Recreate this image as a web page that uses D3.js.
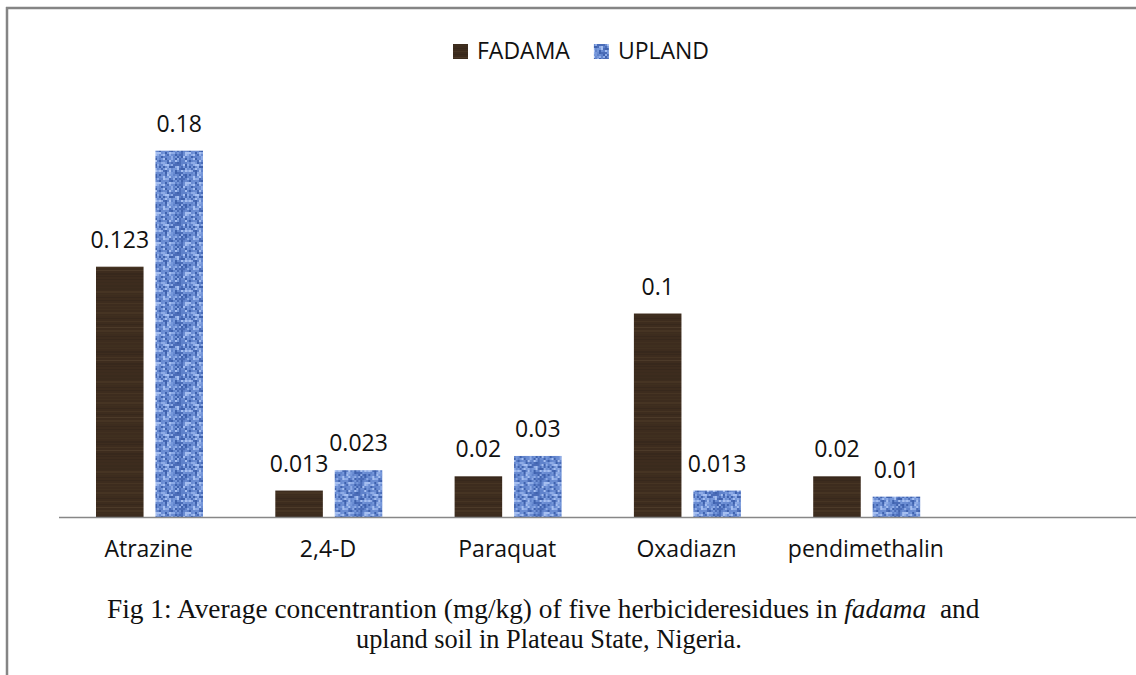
<!DOCTYPE html>
<html>
<head>
<meta charset="utf-8">
<script src="https://cdn.jsdelivr.net/npm/d3@7"></script>
<style>
  body { margin: 0; background: #fff; }
  svg { display: block; }
</style>
</head>
<body>
<script>
var width = 1136;
var height = 675;

// data
var herbicides = ["Atrazine", "2,4-D", "Paraquat", "Oxadiazn", "pendimethalin"];
var series = ["FADAMA", "UPLAND"];
var fadama = [0.123, 0.013, 0.02, 0.1, 0.02];
var upland = [0.18, 0.023, 0.03, 0.013, 0.01];
var captionLine1 = "Fig 1: Average concentrantion (mg/kg) of five herbicideresidues in ";
var captionItalic = "fadama";
var captionEnd = "  and";
var captionLine2 = "upland soil in Plateau State, Nigeria.";

var rows = herbicides.map(function(h, i) {
  return { name: h, FADAMA: fadama[i], UPLAND: upland[i] };
});

var svg = d3.select("body")
            .append("svg")
            .attr("width", width)
            .attr("height", height);

var defs = svg.append("defs");

// little hash so the textures look the same every time
var hash = function(n) {
  var s = Math.sin(n * 12.9898 + 78.233) * 43758.5453;
  return s - Math.floor(s);
};

// dark wood texture for FADAMA
var wood = defs.append("pattern")
  .attr("id", "wood")
  .attr("patternUnits", "userSpaceOnUse")
  .attr("width", 60)
  .attr("height", 90);
wood.append("rect").attr("width", 60).attr("height", 90).attr("fill", "#3d2c1e");
var woodShades = ["#34251a", "#443221", "#4c3926", "#392a1c", "#574330", "#413020"];
for (var yy = 0; yy < 90; yy += 3) {
  var r = hash(yy + 3);
  wood.append("rect")
    .attr("x", 0).attr("y", yy)
    .attr("width", 60).attr("height", r > 0.7 ? 2 : 1)
    .attr("fill", woodShades[Math.floor(hash(yy * 7 + 1) * woodShades.length)])
    .attr("opacity", 0.6);
}

// blue canvas texture for UPLAND
var canvas = defs.append("pattern")
  .attr("id", "canvas")
  .attr("patternUnits", "userSpaceOnUse")
  .attr("width", 30)
  .attr("height", 30);
canvas.append("rect").attr("width", 30).attr("height", 30).attr("fill", "#7395d8");
var blueShades = ["#4a6cb8", "#5f82cb", "#7597da", "#8eabe6", "#a6bff0", "#6a8cd2", "#3f62ae"];
for (var cx = 0; cx < 30; cx += 2) {
  for (var cy = 0; cy < 30; cy += 2) {
    var k = hash(cx * 31 + cy * 17 + 5);
    canvas.append("rect")
      .attr("x", cx).attr("y", cy)
      .attr("width", 2).attr("height", 2)
      .attr("fill", blueShades[Math.floor(k * blueShades.length)]);
  }
}

var fills = { FADAMA: "url(#wood)", UPLAND: "url(#canvas)" };

// frame lines (left and top)
svg.append("line")
  .attr("x1", 7).attr("x2", 7).attr("y1", 7).attr("y2", height)
  .attr("stroke", "#858585").attr("stroke-width", 2.5);
svg.append("line")
  .attr("x1", 6).attr("x2", width).attr("y1", 8).attr("y2", 8)
  .attr("stroke", "#858585").attr("stroke-width", 2.5);

var x0 = d3.scaleBand()
  .domain(herbicides)
  .range([59, 59 + 5 * 179.3]);

var x1 = d3.scaleBand()
  .domain(series)
  .range([37, 144])
  .paddingInner(0.2);

var y = d3.scaleLinear()
  .domain([0, 0.2])
  .range([517, 110]);

var groups = svg.selectAll(".group")
  .data(rows)
  .enter().append("g")
  .attr("class", "group")
  .attr("transform", function(d) { return "translate(" + x0(d.name) + ",0)"; });

groups.selectAll("rect")
  .data(function(d) { return series.map(function(s) { return { key: s, value: d[s] }; }); })
  .enter().append("rect")
  .attr("x", function(d) { return x1(d.key); })
  .attr("y", function(d) { return y(d.value); })
  .attr("width", x1.bandwidth())
  .attr("height", function(d) { return y(0) - y(d.value); })
  .attr("fill", function(d) { return fills[d.key]; });

groups.selectAll("text.val")
  .data(function(d) { return series.map(function(s) { return { key: s, value: d[s] }; }); })
  .enter().append("text")
  .attr("class", "val")
  .attr("x", function(d) { return x1(d.key) + x1.bandwidth() / 2; })
  .attr("y", function(d) { return y(d.value) - 19; })
  .attr("text-anchor", "middle")
  .attr("font-family", "'Open Sans', sans-serif")
  .attr("font-size", 23)
  .attr("fill", "#111")
  .text(function(d) { return String(d.value); });

// category axis
var xAxis = d3.axisBottom(x0).tickSize(0).tickPadding(24);
var axisG = svg.append("g")
  .attr("transform", "translate(0," + y(0) + ")")
  .call(xAxis);
axisG.select(".domain").remove();
axisG.selectAll("text")
  .attr("font-family", "'Open Sans', sans-serif")
  .attr("font-size", 23)
  .attr("fill", "#111")
  .attr("dy", "0.71em");

svg.append("line")
  .attr("x1", 59).attr("x2", width)
  .attr("y1", y(0) + 0.5).attr("y2", y(0) + 0.5)
  .attr("stroke", "#878787").attr("stroke-width", 1.5);

// legend
var legend = svg.append("g").attr("transform", "translate(453,0)");
var lx = 0;
series.forEach(function(s) {
  legend.append("rect")
    .attr("x", lx).attr("y", 44)
    .attr("width", 15).attr("height", 15)
    .attr("fill", fills[s]);
  var t = legend.append("text")
    .attr("x", lx + 24).attr("y", 59)
    .attr("font-family", "'Open Sans', sans-serif")
    .attr("font-size", 23)
    .attr("fill", "#111")
    .text(s);
  lx += 24 + t.node().getComputedTextLength() + 24;
});

// caption in a squeezed serif face
var fitLine = function(sel, x0px, x1px) {
  var w = sel.node().getComputedTextLength();
  var sx = (x1px - x0px) / w;
  sel.attr("x", 0).attr("transform", "translate(" + x0px + ",0) scale(" + sx + ",1)");
};

var cap1 = svg.append("text")
  .attr("y", 618)
  .attr("font-family", "'Liberation Serif', 'Times New Roman', serif")
  .attr("font-size", 27)
  .attr("fill", "#111");
cap1.append("tspan").text(captionLine1);
cap1.append("tspan").attr("font-style", "italic").text(captionItalic);
cap1.append("tspan").style("white-space", "pre").text(captionEnd);
fitLine(cap1, 107, 980);

var cap2 = svg.append("text")
  .attr("y", 648)
  .attr("font-family", "'Liberation Serif', 'Times New Roman', serif")
  .attr("font-size", 27)
  .attr("fill", "#111")
  .text(captionLine2);
fitLine(cap2, 356, 742);
</script>
</body>
</html>
